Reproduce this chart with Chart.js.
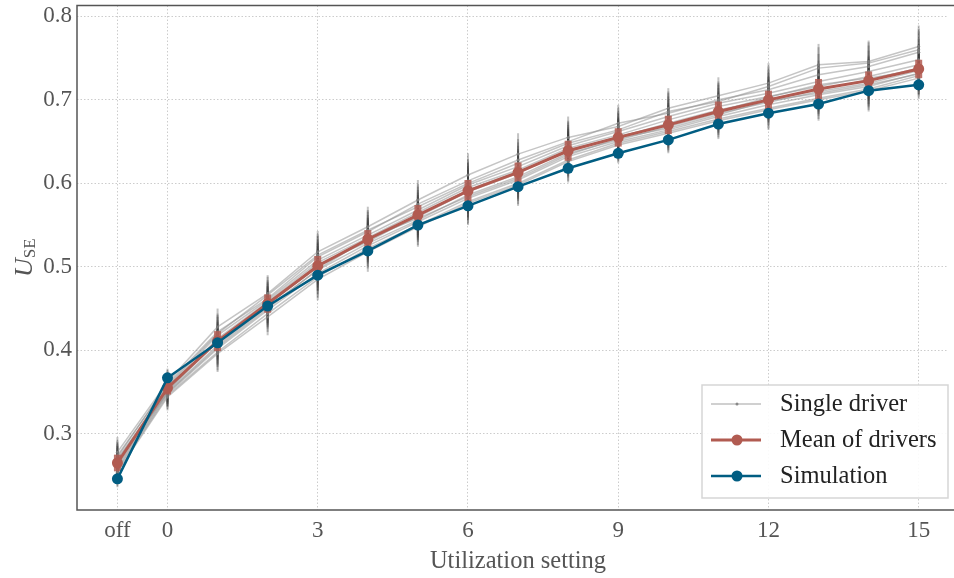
<!DOCTYPE html>
<html>
<head>
<meta charset="utf-8">
<script src="https://cdn.jsdelivr.net/npm/chart.js@4.4.0/dist/chart.umd.min.js"></script>
<style>
html,body{margin:0;padding:0;background:#fff;}
#wrap{width:954px;height:578px;position:relative;}
</style>
</head>
<body>
<div id="wrap"><canvas id="chart"></canvas></div>
<script>
// utilization settings, "off" sits one step left of 0
var settings = ['off','0','1','2','3','4','5','6','7','8','9','10','11','12','13','14','15'];
var settingX = [-1,0,1,2,3,4,5,6,7,8,9,10,11,12,13,14,15];
var xTicks = [-1,0,3,6,9,12,15];
var yTicks = [0.3,0.4,0.5,0.6,0.7,0.8];

var simulation = [0.246,0.367,0.409,0.453,0.490,0.519,0.550,0.573,0.596,0.618,0.636,0.652,0.671,0.684,0.695,0.711,0.718];
var meanDrivers = [0.265,0.355,0.411,0.456,0.501,0.533,0.562,0.591,0.613,0.639,0.655,0.670,0.686,0.700,0.713,0.723,0.737];
var meanErr = [0.010,0.008,0.012,0.011,0.012,0.011,0.012,0.013,0.012,0.012,0.011,0.011,0.012,0.011,0.012,0.011,0.011];
var driverErr = [0.018,0.016,0.022,0.022,0.025,0.024,0.024,0.026,0.025,0.025,0.022,0.024,0.022,0.024,0.025,0.025,0.025];

var drivers = [
  [0.278,0.362,0.428,0.468,0.518,0.548,0.580,0.610,0.635,0.655,0.668,0.690,0.705,0.720,0.742,0.746,0.764],
  [0.272,0.360,0.422,0.462,0.512,0.542,0.575,0.603,0.628,0.650,0.672,0.684,0.700,0.712,0.730,0.740,0.757],
  [0.268,0.356,0.418,0.460,0.508,0.538,0.568,0.598,0.620,0.645,0.662,0.680,0.696,0.708,0.722,0.734,0.748],
  [0.265,0.354,0.414,0.458,0.505,0.535,0.565,0.595,0.616,0.642,0.658,0.676,0.692,0.704,0.716,0.728,0.742],
  [0.262,0.352,0.410,0.455,0.500,0.532,0.560,0.590,0.612,0.640,0.655,0.672,0.688,0.700,0.712,0.724,0.738],
  [0.260,0.350,0.406,0.452,0.496,0.528,0.556,0.586,0.608,0.636,0.652,0.668,0.684,0.697,0.710,0.720,0.735],
  [0.258,0.348,0.402,0.448,0.492,0.525,0.554,0.582,0.604,0.632,0.650,0.664,0.680,0.694,0.706,0.716,0.732],
  [0.256,0.346,0.398,0.444,0.488,0.522,0.550,0.578,0.600,0.628,0.648,0.662,0.677,0.690,0.702,0.713,0.729],
  [0.270,0.352,0.412,0.454,0.503,0.530,0.562,0.592,0.614,0.638,0.656,0.670,0.686,0.703,0.718,0.726,0.736],
  [0.267,0.349,0.404,0.450,0.497,0.534,0.558,0.584,0.606,0.634,0.654,0.666,0.682,0.699,0.708,0.718,0.731],
  [0.274,0.358,0.420,0.466,0.514,0.544,0.572,0.600,0.624,0.648,0.664,0.686,0.698,0.716,0.738,0.744,0.760],
  [0.254,0.344,0.396,0.440,0.485,0.518,0.548,0.576,0.598,0.626,0.646,0.660,0.675,0.688,0.700,0.711,0.726]
];

var RED = '#b15b51';
var BLUE = '#015d82';
var SERIF = '"Liberation Serif", "DejaVu Serif", serif';

function toPoints(vals){
  return vals.map(function(v,i){ return {x:settingX[i], y:v}; });
}

var datasets = [
  {label:'Simulation', data:toPoints(simulation), borderColor:BLUE, backgroundColor:BLUE,
   borderWidth:2.5, pointRadius:5.5, pointBorderWidth:0},
  {label:'Mean of drivers', data:toPoints(meanDrivers), borderColor:RED, backgroundColor:RED,
   borderWidth:3, pointRadius:5.5, pointBorderWidth:0}
];
drivers.forEach(function(d,k){
  datasets.push({label:'Single driver '+(k+1), data:toPoints(d), borderColor:'rgba(140,140,140,0.5)',
    backgroundColor:'#777', borderWidth:1.5, pointRadius:1.5, pointBorderWidth:0});
});

var decor = {
  id:'decor',
  beforeDatasetsDraw:function(chart){
    // whiskers of the single drivers
    var ctx=chart.ctx, xs=chart.scales.x, ys=chart.scales.y;
    ctx.save();
    ctx.strokeStyle='rgba(55,55,55,0.3)';
    ctx.lineWidth=2;
    drivers.forEach(function(d){
      d.forEach(function(v,i){
        var px=xs.getPixelForValue(settingX[i]);
        ctx.beginPath();
        ctx.moveTo(px, ys.getPixelForValue(v-driverErr[i]));
        ctx.lineTo(px, ys.getPixelForValue(v+driverErr[i]));
        ctx.stroke();
      });
    });
    ctx.restore();
  },
  beforeDatasetDraw:function(chart,args){
    if(chart.data.datasets[args.index].label!=='Mean of drivers') return;
    var ctx=chart.ctx, xs=chart.scales.x, ys=chart.scales.y;
    ctx.save();
    ctx.strokeStyle='rgba(177,91,81,0.85)';
    ctx.lineWidth=7;
    meanDrivers.forEach(function(v,i){
      var px=xs.getPixelForValue(settingX[i]);
      ctx.beginPath();
      ctx.moveTo(px, ys.getPixelForValue(v-meanErr[i]));
      ctx.lineTo(px, ys.getPixelForValue(v+meanErr[i]));
      ctx.stroke();
    });
    ctx.restore();
  },
  afterDraw:function(chart){
    var ctx=chart.ctx, a=chart.chartArea;
    ctx.save();
    // frame: left, top, bottom
    ctx.strokeStyle='#555';
    ctx.lineWidth=1.5;
    ctx.beginPath();
    ctx.moveTo(chart.width, a.top);
    ctx.lineTo(a.left, a.top);
    ctx.lineTo(a.left, a.bottom);
    ctx.lineTo(chart.width, a.bottom);
    ctx.stroke();

    // axis titles
    ctx.fillStyle='#555';
    ctx.font='24.5px '+SERIF;
    ctx.textAlign='center';
    ctx.textBaseline='middle';
    ctx.fillText('Utilization setting', 518, 562);

    ctx.save();
    ctx.translate(32, (a.top+a.bottom)/2);
    ctx.rotate(-Math.PI/2);
    ctx.textAlign='left';
    ctx.textBaseline='alphabetic';
    ctx.font='italic 26px '+SERIF;
    var wU=ctx.measureText('U').width;
    ctx.font='17px '+SERIF;
    var wS=ctx.measureText('SE').width;
    var x0=-(wU+wS)/2;
    ctx.font='italic 26px '+SERIF;
    ctx.fillText('U', x0, 0);
    ctx.font='17px '+SERIF;
    ctx.fillText('SE', x0+wU, 3);
    ctx.restore();

    // legend
    var bx=702, by=a.bottom-125, bw=246, bh=113;
    ctx.fillStyle='rgba(255,255,255,0.9)';
    ctx.fillRect(bx,by,bw,bh);
    ctx.strokeStyle='#d6d6d6';
    ctx.lineWidth=1.5;
    ctx.strokeRect(bx,by,bw,bh);
    var items=[
      {t:'Single driver', c:'rgba(150,150,150,0.6)', w:1.5, r:1.5, pc:'#888'},
      {t:'Mean of drivers', c:RED, w:3, r:5.5, pc:RED},
      {t:'Simulation', c:BLUE, w:2.5, r:5.5, pc:BLUE}
    ];
    items.forEach(function(it,k){
      var cy=by+19+k*36;
      ctx.strokeStyle=it.c;
      ctx.lineWidth=it.w;
      ctx.beginPath();
      ctx.moveTo(bx+9,cy);
      ctx.lineTo(bx+59,cy);
      ctx.stroke();
      ctx.fillStyle=it.pc;
      ctx.beginPath();
      ctx.arc(bx+35,cy,it.r,0,Math.PI*2);
      ctx.fill();
      ctx.fillStyle='#222';
      ctx.font='24.5px '+SERIF;
      ctx.textAlign='left';
      ctx.textBaseline='middle';
      ctx.fillText(it.t,bx+78,cy+1);
    });
    ctx.restore();
  }
};

function noEdgePad(s){
  s.paddingTop=0; s.paddingBottom=0; s.paddingLeft=0; s.paddingRight=0;
}

new Chart(document.getElementById('chart'), {
  type:'line',
  data:{datasets:datasets},
  plugins:[decor],
  options:{
    responsive:true,
    maintainAspectRatio:false,
    animation:false,
    layout:{padding:{top:2,right:0,left:0,bottom:0}},
    plugins:{legend:{display:false}, tooltip:{enabled:false}},
    scales:{
      x:{
        type:'linear', min:-1.807, max:15.595,
        afterBuildTicks:function(s){ s.ticks=xTicks.map(function(v){return {value:v};}); },
        afterFit:function(s){ s.height=68; noEdgePad(s); },
        grid:{color:'#cccccc', lineWidth:1, drawTicks:false},
        border:{display:false, dash:[1.5,2]},
        ticks:{padding:7, color:'#555', font:{family:SERIF, size:23},
          callback:function(v){ return settings[settingX.indexOf(v)]; }}
      },
      y:{
        min:0.2087, max:0.813,
        afterBuildTicks:function(s){ s.ticks=yTicks.map(function(v){return {value:v};}); },
        afterFit:function(s){ s.width=77; noEdgePad(s); },
        grid:{color:'#cccccc', lineWidth:1, drawTicks:false},
        border:{display:false, dash:[1.5,2]},
        ticks:{padding:5, color:'#555', font:{family:SERIF, size:23},
          callback:function(v){ return v.toFixed(1); }}
      }
    }
  }
});
</script>
</body>
</html>
